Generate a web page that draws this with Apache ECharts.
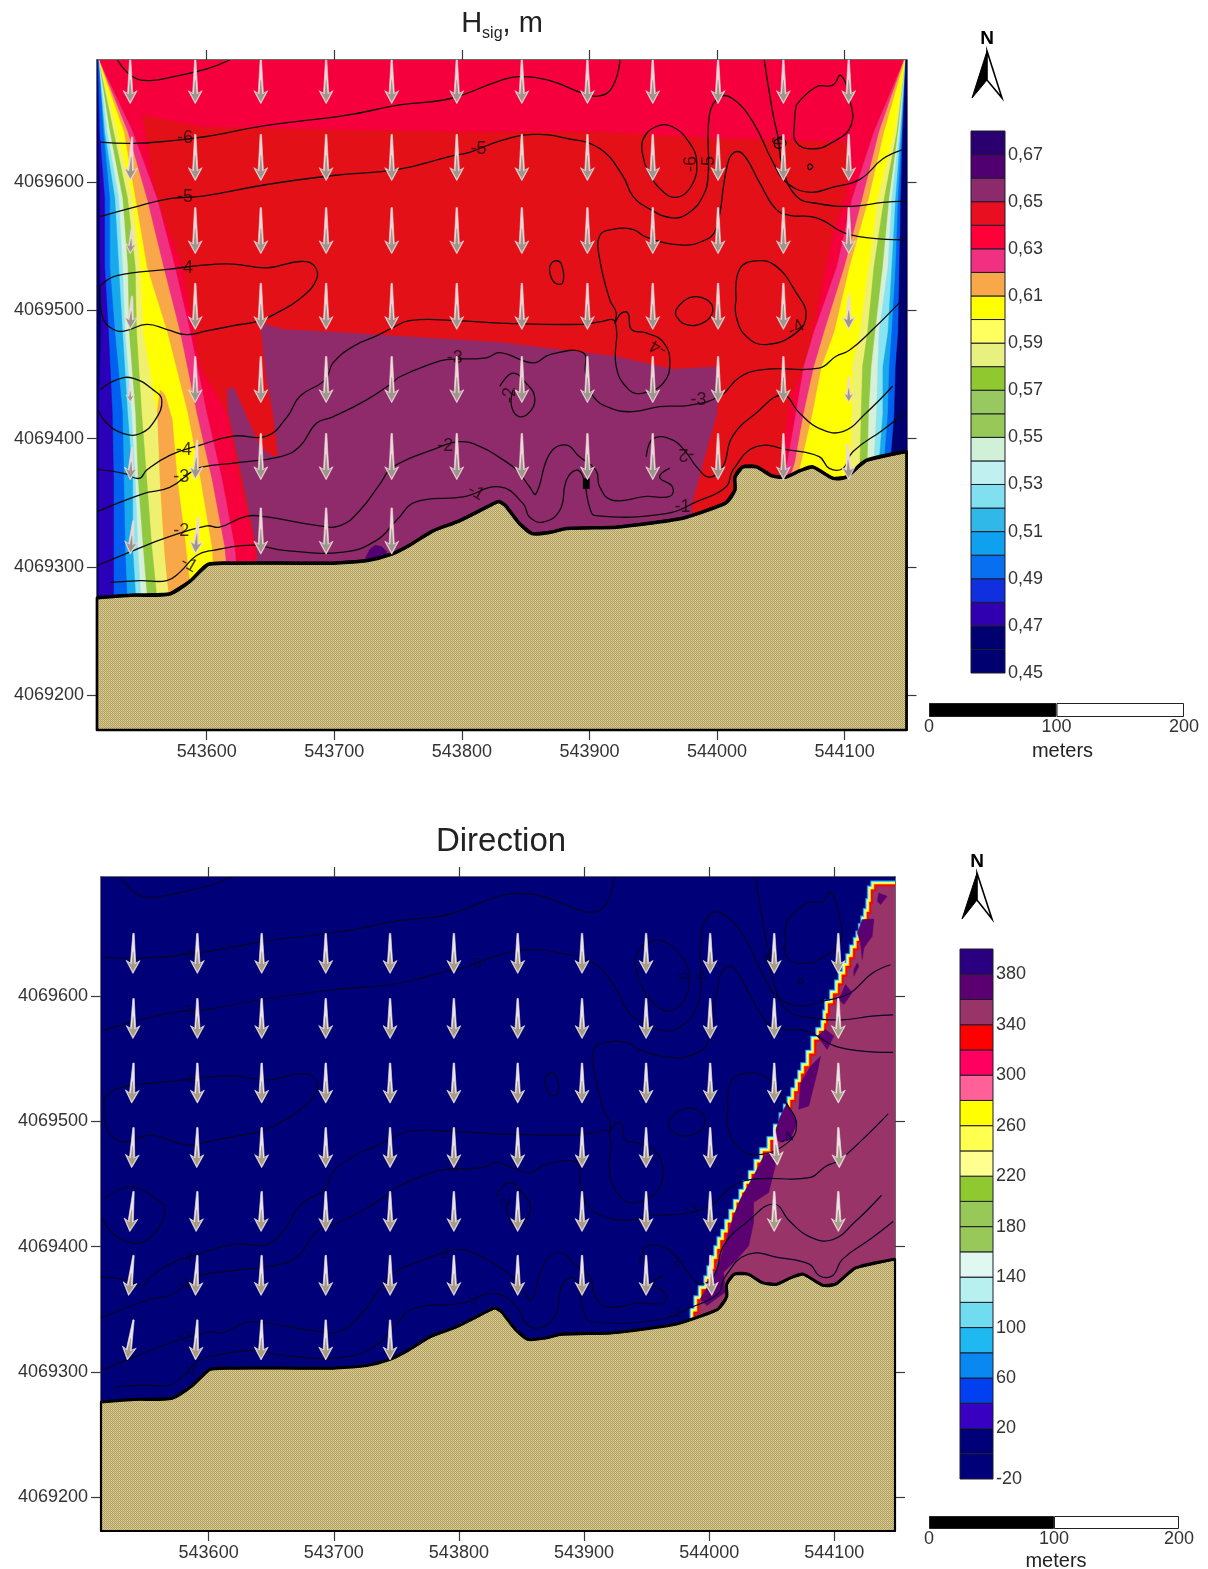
<!DOCTYPE html>
<html><head><meta charset="utf-8">
<style>html,body{margin:0;padding:0;background:#fff}#c{width:1208px;height:1569px}</style>
<script src="https://cdn.jsdelivr.net/npm/echarts@6/dist/echarts.min.js"></script>
</head><body><div id="c"></div>
<script>
// ---------- map data: metres east of 543500 and north of 4069000 ----------
const E0 = 543500, N0 = 4069000;
const eastRange = [14, 648.5], northRange = [173, 695];
const eastTicks = [543600, 543700, 543800, 543900, 544000, 544100];
const northTicks = [4069200, 4069300, 4069400, 4069500, 4069600];

const coast = [[14,276],[40,278],[71,279],[87,289],[101,302],[120,303],[173,303],[199,303],[226,305],[245,310],[259,317],[277,328],[298,336],[324,349],[329,351],[334,348],[338,343],[345,334],[355,326],[369,327],[382,330],[421,331],[447,334],[473,338],[486,342],[507,350],[514,360],[514,370],[520,378],[531,378],[543,371],[554,370],[565,375],[575,378],[591,369],[601,370],[617,383],[648.5,390]];

// Hsig bands, west side: easting of each band's inner edge along these northings
const westRows = [696,639,587,534,483,420,368,315,266];
const westPink = [15,42,61,75,87,100,112,122,126];
const westOrange = [15,38,53,66,79,92,104,114,118];
const westYellow = [15,35,44,53,69,85,95,104,107];
const westPaleYellow = [15,30,42,48,50,61,63,66,71];
const westGreen = [15,27,38,44,45,49,53,57,62];
const westPale = [15,24,34,38,39,44,46,50,54];
const westCyan = [15,22,31,34,36,41,44,46,49];
const westAzure = [15,20,28,31,34,38,42,42,45];
const westBlue = [15,19,24,24,28,34,35,36,38];
const westIndigo = [14.5,16,20,20,23,26,27,27,27];
const westNavy = [14,15,16,16,17,15,15,15,15];
const westOrangeLens = [[63.5,438],[61,420],[63,368],[67.4,305],[71,270],[87,270],[87,285],[83,321],[77,368],[73,415],[67.4,434]];

// Hsig bands, east side
const eastRows = [696,639,587,534,483,456,420,381,360,340];
const eastPink = [647,623,606,594,576,568,562,555,549,545];
const eastOrange = [647,627,614,600,584,576,568,561,554,550];
const eastYellow = [647.5,631,619,604,592,582,575,566,561,558];
const eastPaleYellow = [648,639,626,619,612,606,606,604,602,600];
const eastGreen = [648,641,631,623,618,614,613,612,610,608];
const eastPale = [648,642,635,630,624,621,619,618,616,614];
const eastCyan = [648,643,637,634,627,626,625,623,621,620];
const eastAzure = [648,644,640,637,634,630,630,627,626,625];
const eastBlue = [648,645,642,640,637,635,634,631,630,630];
const eastNavy = [648,645.5,644,643,642,640,639,636,635,635];

const hsigRedZone = [[50,652],[95,643],[173,641],[298,639],[408,639],[496,634],[604,631],[601,589],[591,561],[580,508],[570,461],[557,430],[552,393],[549,372],[549,330],[138,290],[138,315],[126,368],[116,420],[95,456],[81,534],[61,587],[56,612]];
const hsigPlumZone = [[142,490],[160,485],[199,483],[330,475],[421,464],[465,454],[500,456],[500,420],[489,381],[480,348],[480,320],[140,295],[139,315],[128,368],[117,420],[116,438],[121,440],[142,393],[152,386],[156,387],[152,420],[147,446]];
const hsigPurpleSpot = [[224,306],[228,314],[232,317],[237,316],[241,312],[241,300],[224,300]];
const hsigBlackSpot = [[395,369],[400,369],[400,361],[395,361]];

// Depth contours
const contourNW = [[30,695],[42,682],[56,679],[74,682],[100,688],[118,695]];
const contour6 = [[16.5,631],[42,630],[71,632],[97,635],[147,644],[210,652],[251,660],[291,665],[330,679],[345,682],[369,679],[395,669],[408,667],[418,674],[424,695]];
const contour5 = [[16.5,573],[42,580],[71,587],[97,589],[147,598],[199,605],[251,610],[291,620],[306,623],[330,632],[356,637],[382,634],[408,626],[426,605],[434,589],[447,579],[465,572],[478,576],[489,589],[493,605],[494,652],[502,666],[512,665],[528,647],[544,615],[554,600],[572,592],[591,596],[612,602],[630,618],[645,625]];
const contour5East = [[537,695],[544,652],[548,634],[551,613],[562,589],[580,583],[606,581],[630,584],[647,585]];
const contour6Loop = [[442,620],[442,633],[452,643],[465,643],[478,631],[484,616],[480,597],[468,588],[455,595],[445,610],[442,620]];
const contour4West = [[16.5,519],[29.6,527],[71,532],[95,535],[121,536],[147,533],[173,538],[184,535],[186,524],[173,509],[155,498],[142,492],[121,488],[100,484],[84,481],[69,485],[53,489],[36,484],[27,485],[19,493],[16.5,508],[16.5,519]];
const contour4 = [[14,376],[35,373],[47,369],[53,375.5],[71,387],[95,395],[121,402],[147,402],[163,417],[173,433],[193,446],[199,459],[215,472],[233,480],[245,486],[259,492],[296,492],[330,490],[395,489],[408,491],[420,491],[421,456],[431,438],[442,435.5],[457.6,443],[463,459],[458,475],[444.5,482.4],[433,485],[430,498],[424,497],[420,490],[421,498],[416,508],[408,540],[408,558],[418,563],[434,563],[444.5,557],[471,551],[489,554],[499,563],[507,608],[512,622],[520,622],[533,600],[546,579],[557,574],[578,572],[604,559],[647,555]];
const contour3 = [[14,343],[50,357],[71,362],[90,375.5],[97,378],[121,381],[158,386],[173,394],[186,412],[199,417],[225,430],[245,443],[251,448],[278,459],[288,461.5],[319,463],[330,467],[356,459],[369,465.5],[395,467],[397,451],[403,433],[416,424],[434,421],[455,425],[478,426],[502,433],[518,448],[538,454],[580,455],[593,464],[604,469],[622,485],[643,506]];
const contour2 = [[14,301],[43,313],[69,323],[100,332],[110,331],[131,339.5],[147,339],[186,332.5],[204,332],[220,344],[236,365],[246,378],[280,392.4],[298,397.7],[314,394],[330,385],[343,375.5],[353,362.5],[358,357],[369,388.5],[382,395],[392,386],[405,375.5],[408,362.5],[418,352],[444.5,355],[463,355],[465,362.5],[455,370],[463,377]];
const contour2East = [[444.5,386],[450,400],[465,399],[476,389],[484,378],[494,370],[504.5,378],[512,401.6],[530.7,420],[551.5,434],[564.6,420],[580,408],[598.5,405.5],[616.8,420],[637.7,441]];
const contour1 = [[24.3,288],[48,289.4],[68.7,289.4],[79,296],[92,309],[105,313],[136.6,317],[160,313],[207,311.6],[233,320.7],[248.8,336.4],[264,350.7],[301,354.6],[329.7,362.4],[348,349.4],[353,339],[363.6,335],[376.7,344],[382,367.7],[389.7,375.5],[395,370],[400,346.8],[405,340],[460,341.6],[483.7,350.7],[507,362.4],[512.4,375.5],[530.7,393.7],[556.8,391],[580,386],[588,376.8],[598.5,376.8],[606.4,389.8],[630,406.8],[647,420]];
const loopWest = [[16.5,438],[29.6,446],[42.6,447],[58,438],[64.8,430],[59.6,414.6],[48,404],[34.8,404],[21.7,412],[15,422.4]];
const loopSmall = [[369,534.6],[372.8,538.5],[378,535.9],[379,521.5],[372.8,521.5],[369,529],[369,534.6]];
const loopMidA = [[468,500.6],[478.5,509.8],[491.5,508.5],[496.7,499.4],[489,490.2],[476,488.9],[468,495.4],[468,500.6]];
const loopMidB = [[515,508.5],[517.6,532],[530.7,538.5],[546,534.6],[562,513.7],[569.8,496.7],[562,482.4],[538.5,473.3],[522.8,479.8],[515,495.4],[515,508.5]];
const loopNE = [[562,659.7],[577.6,674],[590.7,675.4],[597,683],[603.8,665],[605,644],[590.7,631],[575,625.8],[562,631],[560.7,646.7],[562,659.7]];
const loopTiny = [[571,612],[572.4,614],[575,612],[572.4,609.6],[571,612]];
const loopTiny2 = [[545,632],[549,633.7],[554,631],[551.5,627],[546,627],[545,632]];
const loopCentre = [[329.7,440.7],[340,451],[350.6,443],[357,432.8],[354.5,422.4],[345.4,417],[339,425],[340,438]];
const contourLines = [contourNW,contour6,contour5,contour5East,contour6Loop,contour4West,contour4,contour3,contour2,contour2East,contour1,loopWest,loopSmall,loopMidA,loopMidB,loopNE,loopTiny,loopTiny2,loopCentre];

// Contour labels: easting, northing, text, rotation
const contourLabels = [[83,634,'-6',0],[83,588,'-5',0],[83,533,'-4',0],[313,626,'-5',0],[294.5,463,'-3',0],[82,391,'-4',0],[80,370,'-3',0],[80,328,'-2',0],[86,302,'-1',-30],[287,394,'-2',0],[311,358,'-1',-30],[473,347,'-1',0],[476,388,'-2',180],[485.5,430,'-3',0],[337.5,434,'-2',90],[454,471,'-4',150],[562,486,'-4',30],[480,614,'-6',90],[494,614,'-5',90],[549,630,'-6',90]];

// Wave direction arrows
const arrowEast = [40,91,142.4,193.6,245,296,347,398.4,449.6,500.8,552,603.2];
const hsigArrowHeadN = [661,601,544,485,428,368,310];
const hsigArrowLen = [
 [34,34,34,34,34,34,34,34,34,34,34,34],
 [34,36,36,36,36,36,36,36,36,36,36,36],
 [21,36,36,36,36,36,36,36,36,36,36,36],
 [26,36,36,36,36,36,36,36,36,36,36,27],
 [16,36,36,36,36,36,36,36,36,36,36,20],
 [25,31,36,36,36,36,36,36,36,36,36,28],
 [26,29,36,36,36,null,null,null,null,null,null,null]];
const hsigArrowDrift = [
 [0,0,0,0,0,0,0,0,0,0,0,0],
 [-1.5,0,0,0,0,0,0,0,0,0,0,0],
 [-1.5,0,0,0,0,0,0,0,0,0,0,0],
 [-1.5,0,0,0,0,0,0,0,0,0,0,0],
 [0,0,0,0,0,0,0,0,0,0,0,0],
 [-1.5,-1.5,0,0,0,0,0,0,0,0,0,1],
 [-2.5,-2.5,0,0,0,0,0,0,0,0,0,0]];
const dirArrowTailN = [650,598,546.5,495,444,393,341.5];
const dirArrowLen = [
 [32,32,32,32,32,32,32,32,32,32,32,32],
 [32,32,32,32,32,32,32,32,32,32,32,32],
 [32,32,32,32,32,32,32,32,32,32,32,32],
 [32,32,32,32,32,32,32,32,32,32,30,32],
 [32,32,32,32,32,32,32,32,32,32,32,32],
 [32,32,32,32,32,32,32,32,32,32,null,null],
 [32,32,32,32,32,null,null,null,null,null,null,null]];
const dirArrowDrift = [
 [-.5,0,0,0,0,0,0,0,0,0,0,0],
 [-.5,0,0,0,0,0,0,0,0,0,0,0],
 [-1.5,0,0,0,0,0,0,0,0,0,0,0],
 [-1.5,-.5,0,0,0,0,0,0,0,0,2.5,.8],
 [-3,-1,-.5,0,0,0,0,0,0,0,0,0],
 [-4,-1.5,-.5,0,0,0,0,0,0,1.3,0,0],
 [-5,-1.5,-.5,0,0,0,0,0,0,0,0,0]];

// Direction map: nodes of the stepped edge between the navy water and the plum sector
const dirFront = [[482,342],[484.5,351],[487.5,361],[491,369],[495.5,377],[498,385],[501,393],[503.5,401],[506,408],[509,414],[512,422],[515.5,430],[519,438],[523.5,446],[527,453],[531,461],[535.5,470],[540,479],[546,488],[551,498],[555.6,507],[559,514],[562,520],[565,527],[568,534],[570.5,541],[573,547],[577,557],[581,568],[585,575],[589,581],[590.5,589],[592,597],[596,605],[600,613],[603,620],[606,627],[609,634],[612,641],[615,647],[617,652],[619,658],[621,664],[623,670],[625,678],[626.3,688],[629,692]];
const dirFrontShifts = [0,.9,1.8,3,4.6];
const dirPurpleBlobs = [
 [[635.6,682.2],[642.3,679.6],[637,673],[634.3,675.6]],
 [[622.3,661],[631.6,661.5],[630.3,647.7],[623.6,638.4],[622.3,629],[621,642.4],[618.3,650.4]],
 [[618.3,626.5],[619.6,623.8],[615.6,615.8],[615.6,621]],
 [[609,609.2],[614.3,602.6],[607.6,593.3],[603.6,597.2]],
 [[593,573.3],[599.6,568],[594.3,557.4],[586.3,568]],
 [[589,552],[586.3,538.8],[579.6,512.3],[571.6,509.6],[573,530.8],[581,544]],
 [[562.2,514.9],[570.2,499],[564.9,485.7],[556.9,483],[551.6,488.4],[556.9,504.3]],
 [[551.6,475],[552.9,464.5],[547.6,443.2],[535.5,435.2],[535.5,419.3],[531.6,400.7],[522.2,390],[511.5,379.5],[512.9,363.5],[498.2,352.9],[492.8,358.2],[502.2,374.2],[508.9,390],[519.5,424.6],[524.9,437.9],[535.5,456.5],[543.6,472.4]]];

// Colour bars (bottom to top)
const hsigLevels = [0.45,0.46,0.47,0.48,0.49,0.50,0.51,0.52,0.53,0.54,0.55,0.56,0.57,0.58,0.59,0.60,0.61,0.62,0.63,0.64,0.65,0.66,0.67,0.68];
const hsigColors = ['#000070','#000070','#3000b0','#1030e0','#0870f0','#10a0f0','#30b8e8','#80e0f0','#c0f0f0','#d0f0d8','#98c858','#98c860','#90c830','#e8f080','#ffff60','#ffff00','#f8a848','#f03080','#ff0038','#e81020','#8c2a6c','#500070','#2a0070'];
const hsigTicks = [0.45,0.47,0.49,0.51,0.53,0.55,0.57,0.59,0.61,0.63,0.65,0.67];
const dirLevels = [-20,0,20,40,60,80,100,120,140,160,180,200,220,240,260,280,300,320,340,360,380,400];
const dirColors = ['#000078','#000078','#3800c0','#0040f0','#0888f0','#20b8f0','#70dcf0','#b8f0f0','#e0f8f0','#98c858','#98c858','#90c830','#ffff90','#ffff50','#ffff00','#ff6098','#ff0060','#ff0000','#983468','#5a0070','#2a0080'];
const dirTicks = [-20,20,60,100,140,180,220,260,300,340,380];
const scaleSegments = [100,100];
const scaleTicks = [0,100,200];

// ---------- drawing ----------
const FONT = '"Liberation Sans",Arial,sans-serif';
const C = {red:'#f5003c',darkRed:'#e31018',plum:'#8f2a6b',spot:'#500070',pink:'#f03080',orange:'#f8a848',yellow:'#ffff00',paleY:'#f0f070',green:'#90c840',pale:'#d8f0d8',cyan:'#88e4f0',azure:'#18a8ec',blue:'#0060f0',indigo:'#2a00b8',navy:'#000070'};

function westBand(e){return westRows.map((n,i)=>[e[i],n]).concat([[13,266],[13,696]]);}
function eastBand(e){return eastRows.map((n,i)=>[e[i],n]).concat([[650,340],[650,696]]);}
const fullRect = [[13,172],[650,172],[650,697],[13,697]];

const hsigPolys = [
 {p:fullRect,f:C.red},{p:hsigRedZone,f:C.darkRed},{p:hsigPlumZone,f:C.plum},{p:hsigPurpleSpot,f:C.spot},{p:hsigBlackSpot,f:'#000'},
 {p:westBand(westPink),f:C.pink},{p:westBand(westOrange),f:C.orange},{p:westBand(westYellow),f:C.yellow},{p:westOrangeLens,f:C.orange},
 {p:westBand(westPaleYellow),f:C.paleY},{p:westBand(westGreen),f:C.green},{p:westBand(westPale),f:C.pale},{p:westBand(westCyan),f:C.cyan},
 {p:westBand(westAzure),f:C.azure},{p:westBand(westBlue),f:C.blue},{p:westBand(westIndigo),f:C.indigo},{p:westBand(westNavy),f:C.navy},
 {p:eastBand(eastPink),f:C.pink},{p:eastBand(eastOrange),f:C.orange},{p:eastBand(eastYellow),f:C.yellow},{p:eastBand(eastPaleYellow),f:C.paleY},
 {p:eastBand(eastGreen),f:C.green},{p:eastBand(eastPale),f:C.pale},{p:eastBand(eastCyan),f:C.cyan},{p:eastBand(eastAzure),f:C.azure},
 {p:eastBand(eastBlue),f:C.blue},{p:eastBand(eastNavy),f:C.navy}
];
const frontColors = ['#20b8f0','#e0f8f0','#ffff00','#ff0000','#983468'];
function frontEdge(s){
  const out=[];
  dirFront.forEach((q,i)=>{
    out.push([q[0]+s,q[1]-s]);
    if(i<dirFront.length-1) out.push([dirFront[i+1][0]+s,q[1]-s]);
  });
  return out;
}
const dirPolys = [{p:fullRect,f:'#000078'}]
 .concat(dirFrontShifts.map((s,i)=>({
   p:frontEdge(s).concat([[650,692-s],[650,300],[482+s,300]]),f:frontColors[i]})))
 .concat(dirPurpleBlobs.map(b=>({p:b,f:'#5a0070'})));

function landPattern(){
  const c=document.createElement('canvas');c.width=c.height=2;
  const x=c.getContext('2d');
  x.fillStyle='#d4c484';x.fillRect(0,0,2,2);
  x.fillStyle='#ae9f66';x.fillRect(0,0,1,1);x.fillRect(1,1,1,1);
  x.fillStyle='#e0d092';x.fillRect(1,0,1,1);
  return {image:c,repeat:'repeat'};
}
const landFill = landPattern();
const landPoly = coast.concat([[648.5,northRange[0]],[14,northRange[0]]]);

const toMap = p => [E0+p[0],N0+p[1]];
function polySeries(polys,xi,yi,z){
  return {type:'custom',xAxisIndex:xi,yAxisIndex:yi,z:z,clip:true,silent:true,animation:false,
    data:polys.map((_,i)=>[E0+100,N0+300,i]),
    renderItem:(params,api)=>{const o=polys[params.dataIndex];
      return {type:'polygon',shape:{points:o.p.map(q=>api.coord(toMap(q)))},style:{fill:o.f,stroke:o.f,lineWidth:.4}};}};
}
function landSeries(xi,yi,w){
  return {type:'custom',xAxisIndex:xi,yAxisIndex:yi,z:5,clip:false,silent:true,animation:false,data:[[E0+100,N0+200]],
    renderItem:(params,api)=>({type:'group',children:[
      {type:'polygon',shape:{points:landPoly.map(q=>api.coord(toMap(q)))},style:{fill:landFill,stroke:'#000',lineWidth:w-.8,lineJoin:'round'}},
      {type:'polyline',shape:{points:coast.map(q=>api.coord(toMap(q))),smooth:.25},style:{fill:null,stroke:'#000',lineWidth:w,lineJoin:'round'}}
    ]})};
}
function contourSeries(xi,yi,col,w){
  return {type:'custom',xAxisIndex:xi,yAxisIndex:yi,z:4,clip:true,silent:true,animation:false,
    data:contourLines.map((_,i)=>[E0+100,N0+300,i]),
    renderItem:(params,api)=>({type:'polyline',
      shape:{points:contourLines[params.dataIndex].map(q=>api.coord(toMap(q))),smooth:.45},
      style:{fill:null,stroke:col,lineWidth:w,lineJoin:'round'}})};
}
function labelSeries(xi,yi,col,size){
  return {type:'scatter',xAxisIndex:xi,yAxisIndex:yi,z:6,silent:true,animation:false,symbolSize:0,
    data:contourLabels.map(l=>({value:toMap(l),label:{show:true,position:'inside',formatter:l[2],rotate:l[3],color:col,fontSize:size,fontFamily:FONT}}))};
}
function arrowSeries(list,xi,yi,outer,inner){
  return {type:'custom',xAxisIndex:xi,yAxisIndex:yi,z:7,clip:false,silent:true,animation:false,
    data:list,
    renderItem:(params,api)=>{
      const a=api.coord([api.value(0),api.value(1)]),b=api.coord([api.value(2),api.value(3)]);
      const dx=b[0]-a[0],dy=b[1]-a[1],L=Math.hypot(dx,dy),ux=dx/L,uy=dy/L,k=Math.min(1,L/34);
      const pt=(s,w)=>[a[0]+ux*s-uy*w,a[1]+uy*s+ux*w];
      const hw=7*k,hl=13*k;
      return {type:'group',children:[
        {type:'polygon',shape:{points:[pt(0,-.7),pt(L-hl*.8,-2.6*k),pt(L-hl,-hw),pt(L,0),pt(L-hl,hw),pt(L-hl*.8,2.6*k),pt(0,.7)]},style:{fill:outer,stroke:outer,lineWidth:.6}},
        {type:'polygon',shape:{points:[pt(L*.45,-.3),pt(L-hl*.72,-1.5*k),pt(L-hl*.88,-5.2*k),pt(L-1.8,0),pt(L-hl*.88,5.2*k),pt(L-hl*.72,1.5*k),pt(L*.45,.3)]},style:{fill:inner}}
      ]};
    }};
}
function buildArrows(rows,len,drift,atHead){
  const out=[];
  rows.forEach((n,r)=>arrowEast.forEach((e,c)=>{
    const v=len[r][c]; if(v==null) return;
    const u=drift[r][c];
    if(atHead) out.push([E0+e-u,N0+n+v,E0+e,N0+n]);
    else out.push([E0+e,N0+n,E0+e+u,N0+n-v]);
  }));
  return out;
}
function colorbarSeries(levels,colors,xi,yi){
  return {type:'custom',xAxisIndex:xi,yAxisIndex:yi,silent:true,animation:false,
    data:colors.map((_,i)=>[0,levels[i],1,levels[i+1]]),
    renderItem:(params,api)=>{
      const a=api.coord([api.value(0),api.value(3)]),b=api.coord([api.value(2),api.value(1)]);
      return {type:'rect',shape:{x:a[0],y:a[1],width:b[0]-a[0],height:b[1]-a[1]},style:{fill:colors[params.dataIndex],stroke:'#1c1c2c',lineWidth:1}};
    }};
}
function scaleBar(xi,yi){
  const mk=col=>({type:'bar',stack:'s'+xi,xAxisIndex:xi,yAxisIndex:yi,barWidth:'100%',silent:true,animation:false,
     itemStyle:{color:col,borderColor:'#222',borderWidth:1}});
  return [Object.assign(mk('#000'),{data:[scaleSegments[0]]}),Object.assign(mk('#fff'),{data:[scaleSegments[1]]})];
}

const axisCol='#3a3a3a', txt='#333';
function eastAxis(grid,pos,show){
  return {type:'value',gridIndex:grid,position:pos,min:E0+eastRange[0],max:E0+eastRange[1],splitLine:{show:false},
    axisLine:{show:true,onZero:false,lineStyle:{color:axisCol,width:1.5}},
    axisTick:{show:true,inside:false,length:10,lineStyle:{color:axisCol,width:1.2},customValues:eastTicks},
    axisLabel:{show:show,customValues:eastTicks,formatter:v=>String(v),fontFamily:FONT,fontSize:18,color:txt,margin:13}};
}
function northAxis(grid,pos,show){
  return {type:'value',gridIndex:grid,position:pos,min:N0+northRange[0],max:N0+northRange[1],splitLine:{show:false},
    axisLine:{show:true,onZero:false,lineStyle:{color:axisCol,width:1.5}},
    axisTick:{show:true,inside:false,length:10,lineStyle:{color:axisCol,width:1.2},customValues:northTicks},
    axisLabel:{show:show,customValues:northTicks,formatter:v=>String(v),fontFamily:FONT,fontSize:18,color:txt,margin:13}};
}
function barAxis(grid,levels,ticks,fmt){
  return {type:'value',gridIndex:grid,position:'right',min:levels[0],max:levels[levels.length-1],splitLine:{show:false},
    axisLine:{show:false},axisTick:{show:false},
    axisLabel:{show:true,customValues:ticks,formatter:fmt,fontFamily:FONT,fontSize:18,color:txt,margin:3}};
}
const unitAxis = g => ({type:'value',gridIndex:g,min:0,max:1,show:false});
function scaleX(g,gap,pad){
  return {type:'value',gridIndex:g,min:0,max:200,splitLine:{show:false},axisLine:{show:false},axisTick:{show:false},
    axisLabel:{show:true,customValues:scaleTicks,formatter:v=>String(v),fontFamily:FONT,fontSize:18,color:txt,margin:1,hideOverlap:false},
    name:'meters',nameLocation:'middle',nameGap:gap,nameTextStyle:{fontFamily:FONT,fontSize:20,color:'#222',padding:[0,0,0,pad]}};
}
const scaleY = g => ({type:'category',gridIndex:g,data:['scale'],show:false});

function northArrow(cx,nY,tipY,baseY,notchY,half){
  return [
   {type:'text',x:cx,y:nY,style:{text:'N',fontFamily:FONT,fontSize:19,fontWeight:'bold',fill:'#000',textAlign:'center',textVerticalAlign:'middle'}},
   {type:'polygon',shape:{points:[[cx,tipY],[cx-half,baseY],[cx,notchY]]},style:{fill:'#000',stroke:'#000',lineWidth:1}},
   {type:'polygon',shape:{points:[[cx,tipY],[cx+half,baseY],[cx,notchY]]},style:{fill:'#fff',stroke:'#000',lineWidth:1.6}}
  ];
}
const G = o => Object.assign({outerBoundsMode:'none',containLabel:false},o);

const option = {
  animation:false,backgroundColor:'#fff',
  title:[
   {text:'{a|H}{b|sig}{a|, m}',left:497,top:1,textAlign:'center',textStyle:{fontWeight:'normal',rich:{a:{fontFamily:FONT,fontSize:29,fontWeight:'normal',color:'#222',lineHeight:36},b:{fontFamily:FONT,fontSize:16,fontWeight:'normal',color:'#222',padding:[20,0,0,0],lineHeight:36}}}},
   {text:'Direction',left:496,top:820,textAlign:'center',textStyle:{fontFamily:FONT,fontSize:33,fontWeight:'normal',color:'#222'}}
  ],
  grid:[
   G({left:97,top:60,width:809.5,height:670}),
   G({left:101,top:877,width:794,height:654}),
   G({left:971,top:131,width:34,height:542}),
   G({left:960,top:949,width:33,height:530}),
   G({left:929,top:703,width:255,height:14}),
   G({left:929,top:1516,width:250,height:13})
  ],
  xAxis:[eastAxis(0,'bottom',true),eastAxis(0,'top',false),eastAxis(1,'bottom',true),eastAxis(1,'top',false),unitAxis(2),unitAxis(3),scaleX(4,24,12),scaleX(5,22,4)],
  yAxis:[northAxis(0,'left',true),northAxis(0,'right',false),northAxis(1,'left',true),northAxis(1,'right',false),
    barAxis(2,hsigLevels,hsigTicks,v=>v.toFixed(2).replace('.',',')),barAxis(3,dirLevels,dirTicks,v=>String(v)),scaleY(4),scaleY(5)],
  series:[
    polySeries(hsigPolys,0,0,1),
    contourSeries(0,0,'#0c0c0c',1.3),
    landSeries(0,0,3.5),
    labelSeries(0,0,'#1a0808',18),
    arrowSeries(buildArrows(hsigArrowHeadN,hsigArrowLen,hsigArrowDrift,true),0,0,'#ecd8d8','#9c968c'),
    polySeries(dirPolys,2,2,1),
    contourSeries(2,2,'#050528',1.2),
    landSeries(2,2,3),
    labelSeries(2,2,'#000040',15),
    arrowSeries(buildArrows(dirArrowTailN,dirArrowLen,dirArrowDrift,false),2,2,'#ece4e4','#a89c84'),
    colorbarSeries(hsigLevels,hsigColors,4,4),
    colorbarSeries(dirLevels,dirColors,5,5),
    ...scaleBar(6,6),
    ...scaleBar(7,7)
  ],
  graphic:[...northArrow(987,39,51,98,80,15),...northArrow(977,862,873,919,900,15)]
};
const chart = echarts.init(document.getElementById('c'),null,{renderer:'canvas',width:1208,height:1569});
chart.setOption(option);
</script></body></html>
